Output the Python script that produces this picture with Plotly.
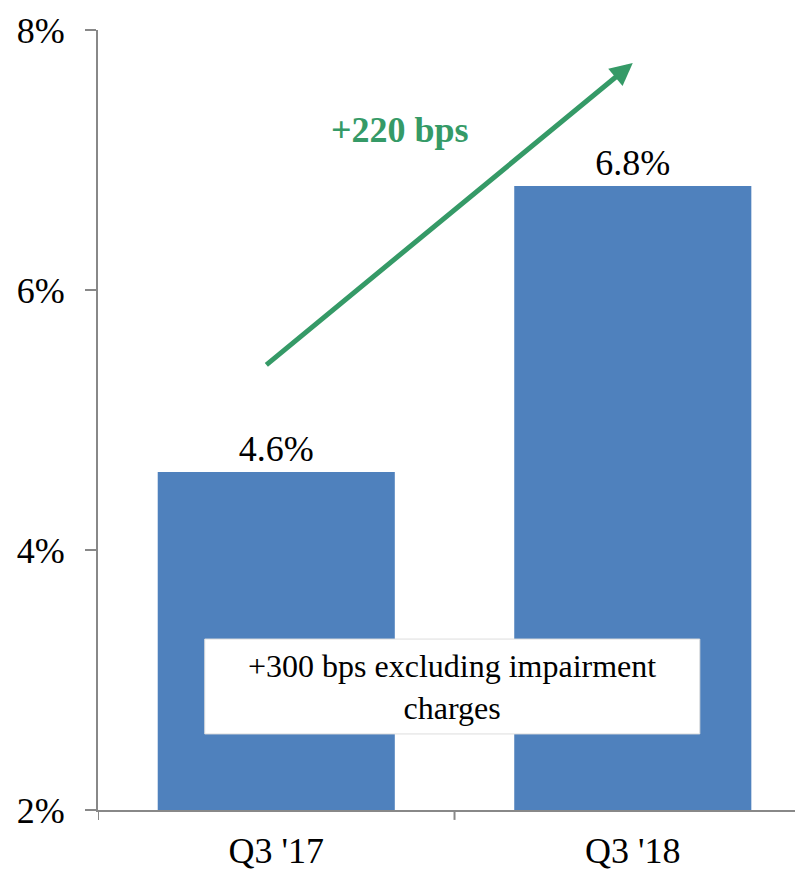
import plotly.graph_objects as go

# Operating margin by quarter
quarters = ["Q3 '17", "Q3 '18"]
margins = [4.6, 6.8]
bar_labels = ["4.6%", "6.8%"]
y_ticks = [2, 4, 6, 8]
y_tick_labels = ["2%", "4%", "6%", "8%"]
change_label = "+220 bps"
note_label = "+300 bps excluding impairment<br>charges"

FONT = "Liberation Serif, Times New Roman, serif"
BAR_COLOR = "#4F81BD"
GREEN = "#359A67"
AXIS_GRAY = "#888888"

fig = go.Figure()
fig.add_trace(go.Bar(
    x=[0, 1],
    y=margins,
    base=0,
    width=0.665,
    marker=dict(color=BAR_COLOR, line=dict(width=0)),
    text=bar_labels,
    textposition="outside",
    textfont=dict(family=FONT, size=36, color="black"),
    cliponaxis=False,
    hoverinfo="skip",
))

# Note box spanning both bars
fig.add_shape(type="rect", xref="x", yref="y",
              x0=-0.2006, x1=1.188, y0=2.585, y1=3.315,
              fillcolor="white", line=dict(color="#dddddd", width=1), layer="above")
fig.add_annotation(x=0.494, y=2.95, xref="x", yref="y", text=note_label,
                   showarrow=False, align="center",
                   font=dict(family=FONT, size=32, color="black"))

# Growth arrow and label
fig.add_annotation(x=1.0, y=7.746, ax=-0.032, ay=5.415,
                   xref="x", yref="y", axref="x", ayref="y",
                   text="", showarrow=True, arrowhead=2, arrowsize=0.9,
                   arrowwidth=5, arrowcolor=GREEN)
fig.add_annotation(x=0.346, y=7.23, xref="x", yref="y", text="<b>" + change_label + "</b>",
                   showarrow=False, font=dict(family=FONT, size=36, color=GREEN))

fig.update_layout(
    width=795, height=871,
    margin=dict(l=98, r=0, t=30, b=61),
    paper_bgcolor="white", plot_bgcolor="white",
    showlegend=False,
    font=dict(family=FONT, size=36, color="black"),
    xaxis=dict(
        range=[-0.5, 1.455],
        tickmode="array", tickvals=[0, 1], ticktext=quarters,
        showgrid=False, zeroline=False,
        showline=True, linecolor=AXIS_GRAY, linewidth=2,
        ticks="", ticklabelstandoff=8, automargin=False,
        tickfont=dict(family=FONT, size=36, color="black"),
        fixedrange=True,
    ),
    yaxis=dict(
        range=[2, 8],
        tickmode="array", tickvals=y_ticks, ticktext=y_tick_labels,
        showgrid=False, zeroline=False,
        showline=True, linecolor=AXIS_GRAY, linewidth=2,
        ticks="outside", ticklen=11, tickwidth=2, tickcolor=AXIS_GRAY,
        ticklabelstandoff=13, automargin=False,
        tickfont=dict(family=FONT, size=36, color="black"),
        fixedrange=True,
    ),
)

# Category boundary tick marks below the x axis
for xb in [-0.5, 0.5, 1.5]:
    fig.add_shape(type="line", xref="x", yref="paper", x0=xb, x1=xb, y0=0, y1=-0.0127,
                  line=dict(color=AXIS_GRAY, width=2), layer="above")

fig.write_html("out.html")
